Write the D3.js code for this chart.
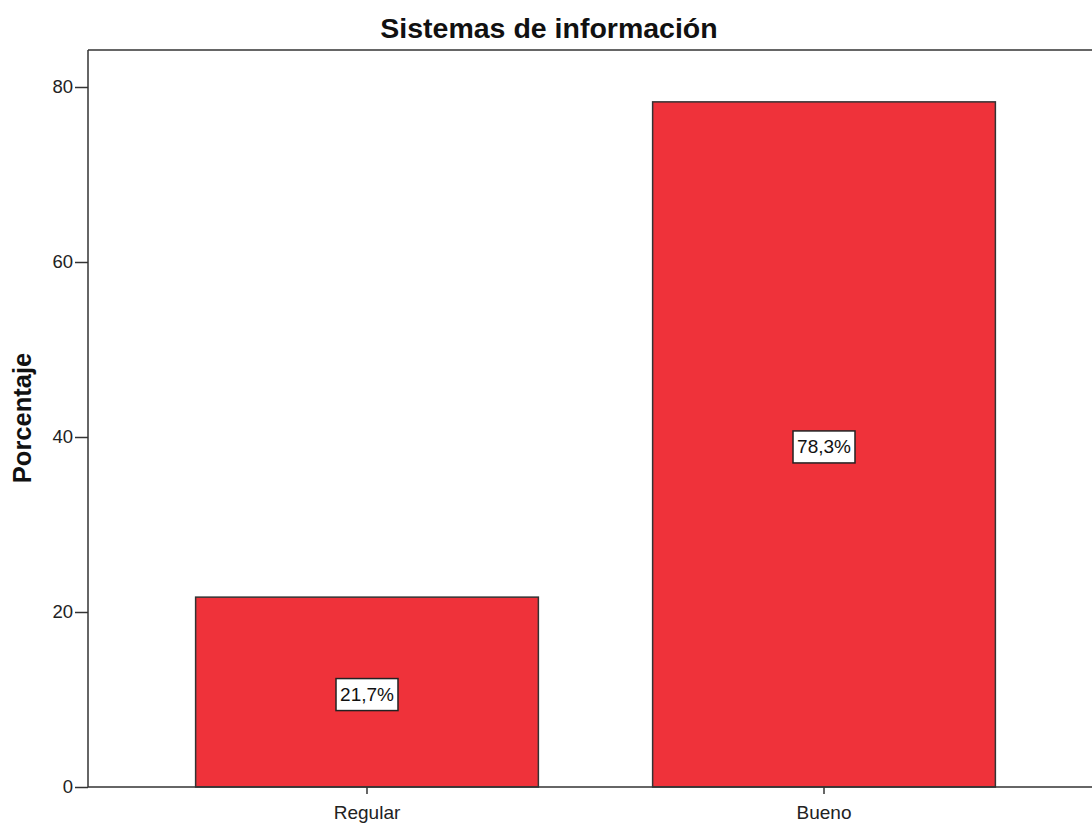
<!DOCTYPE html>
<html><head><meta charset="utf-8">
<script src="https://cdn.jsdelivr.net/npm/d3@7"></script>
<style>body{margin:0;background:#fff}svg{display:block}</style>
</head><body>
<svg id="c" width="1092" height="825"></svg>
<script>
const categories = ["Regular", "Bueno"];
const values = [21.7, 78.3];
const labels = ["21,7%", "78,3%"];
const yTicks = [0, 20, 40, 60, 80];
const title = "Sistemas de información";
const yTitle = "Porcentaje";

(function () {
const svg = d3.select("#c");
const mLeft = 88, mTop = 50, mBottom = 787, mRight = 1103;
const font = "Arial, 'Liberation Sans', sans-serif";

const x = d3.scaleBand().domain(categories).range([mLeft, mRight]).paddingInner(0.25).paddingOuter(0.2355);
const y = d3.scaleLinear().domain([0, 80]).range([mBottom, mBottom - 700]);

// frame top
svg.append("line").attr("x1", mLeft).attr("x2", 1092).attr("y1", mTop).attr("y2", mTop)
  .attr("stroke", "#333").attr("stroke-width", 1.5);

// bars
svg.selectAll("rect.bar").data(values).join("rect").attr("class", "bar")
  .attr("x", (d, i) => x(categories[i]))
  .attr("y", d => y(d))
  .attr("width", x.bandwidth())
  .attr("height", d => y(0) - y(d))
  .attr("fill", "#ef323a").attr("stroke", "#333").attr("stroke-width", 1.5);

// y axis
const yAxis = d3.axisLeft(y).tickValues(yTicks).tickSize(13).tickPadding(2).tickFormat(d3.format("d"));
const gy = svg.append("g").attr("transform", `translate(${mLeft},0)`).call(yAxis);
gy.select(".domain").remove();
gy.append("line").attr("x1", 0).attr("x2", 0).attr("y1", mTop).attr("y2", mBottom).attr("stroke", "#333").attr("stroke-width", 1.5);
gy.selectAll(".tick line").attr("stroke", "#333").attr("stroke-width", 1.5);
gy.selectAll(".tick text").attr("font-family", font).attr("font-size", 18.5).attr("fill", "#222");

// x axis
const xAxis = d3.axisBottom(x).tickSize(0).tickPadding(21);
const gx = svg.append("g").attr("transform", `translate(0,${mBottom})`).call(xAxis);
gx.select(".domain").remove();
gx.append("line").attr("x1", mLeft).attr("x2", 1092).attr("y1", 0).attr("y2", 0).attr("stroke", "#333").attr("stroke-width", 1.5);
gx.selectAll(".tick").append("line").attr("y1", 0).attr("y2", 7).attr("stroke", "#333").attr("stroke-width", 1.5);
gx.selectAll(".tick text").attr("dy", "0.6em").attr("font-family", font).attr("font-size", 19).attr("fill", "#222");

// value labels
const lg = svg.selectAll("g.lab").data(values).join("g").attr("class", "lab")
  .attr("transform", (d, i) => `translate(${x(categories[i]) + x.bandwidth() / 2},${(y(d) + y(0)) / 2 + 2.5})`);
lg.append("text").text((d, i) => labels[i]).attr("text-anchor", "middle").attr("dominant-baseline", "central")
  .attr("font-family", font).attr("font-size", 19).attr("fill", "#111");
lg.each(function () {
  const g = d3.select(this);
  const bb = g.select("text").node().getBBox();
  const w = bb.width + 8, h = 32;
  g.insert("rect", "text").attr("x", -w / 2).attr("y", -h / 2).attr("width", w).attr("height", h)
    .attr("fill", "#fff").attr("stroke", "#222").attr("stroke-width", 1.5);
});

// titles
svg.append("text").attr("x", 549).attr("y", 38).attr("text-anchor", "middle")
  .attr("font-family", font).attr("font-weight", "bold").attr("font-size", 28.5).attr("fill", "#111").text(title);
svg.append("text").attr("transform", `translate(31,${418}) rotate(-90)`).attr("text-anchor", "middle")
  .attr("font-family", font).attr("font-weight", "bold").attr("font-size", 25.5).attr("fill", "#111").text(yTitle);
})();
</script>
</body></html>
